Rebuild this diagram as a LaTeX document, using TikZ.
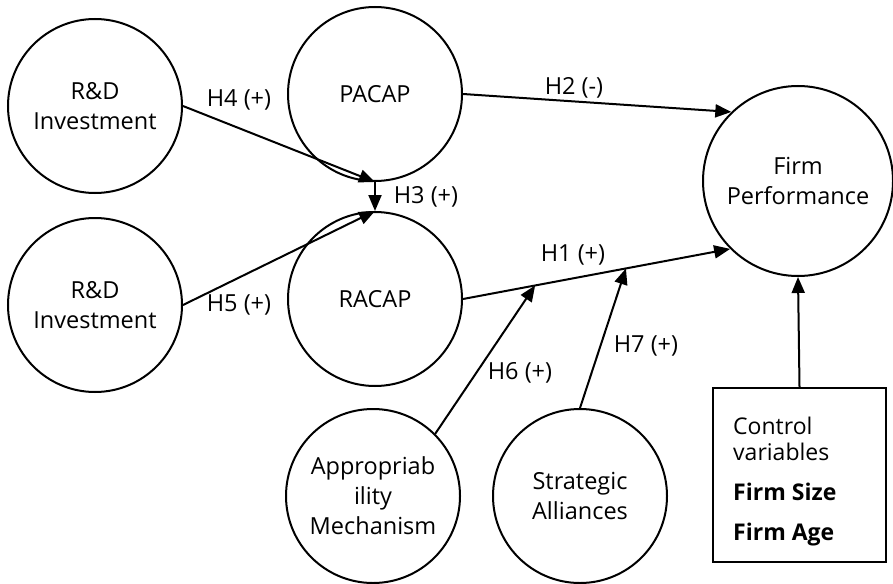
\documentclass[tikz,border=0pt]{standalone}
\usepackage{fontspec}
\setmainfont{Open Sans}
\usetikzlibrary{arrows.meta,calc}
\begin{document}
\begin{tikzpicture}[x=1pt,y=-1pt,
  var/.style={circle,draw,line width=2pt,minimum size=174pt,inner sep=0pt,align=center,font=\fontsize{23.5}{30}\selectfont},
  arr/.style={line width=2pt,-{Triangle[length=16pt,width=13pt]}},
  lbl/.style={font=\fontsize{23.5}{25}\selectfont,inner sep=0pt}]
\useasboundingbox (0,0) rectangle (893,583);
\node[var] (rd1) at (95,106) {R\&D\\Investment};
\node[var] (rd2) at (95,305) {R\&D\\Investment};
\node[var] (pacap) at (375,94) {PACAP};
\node[var] (racap) at (375,299) {RACAP};
\node[var,minimum size=190pt] (firm) at (798,181) {Firm\\Performance};
\node[var] (appr) at (373,496) {Appropriab\\ility\\Mechanism};
\node[var] (sa) at (580,496) {Strategic\\Alliances};
\node[draw,line width=2pt,minimum width=173pt,minimum height=174pt,inner sep=0pt] (ctrl) at (799.5,475) {};
\node[anchor=north west,inner sep=0pt,align=left,font=\fontsize{23}{26}\selectfont] (ctrltxt) at (733,417)
  {Control\\variables\\[14pt]\textbf{Firm Size}\\[14pt]\textbf{Firm Age}};

\draw[arr] (rd1.east) -- (pacap.south);
\draw[arr] (rd2.east) -- (racap.north);
\draw[arr] (pacap.south) -- (racap.north);
\draw[arr] (pacap.east) -- (firm.134);
\draw[arr] (racap.east) -- (firm.225);
\path (racap.east) -- (firm.225) coordinate[pos=0.27] (m6) coordinate[pos=0.61] (m7);
\draw[arr] (appr.45) -- (m6);
\draw[arr] (sa.north) -- (m7);
\draw[arr] (ctrl.north) -- (firm.south);

\node[lbl] (l4) at (239,100) {H4 (+)};
\node[lbl] (l5) at (239,305) {H5 (+)};
\node[lbl] (l3) at (426,197) {H3 (+)};
\node[lbl] (l2) at (574,88) {H2 (-)};
\node[lbl] (l1) at (573,255) {H1 (+)};
\node[lbl] (l6) at (520,373) {H6 (+)};
\node[lbl] (l7) at (646,346) {H7 (+)};
\end{tikzpicture}
\end{document}
